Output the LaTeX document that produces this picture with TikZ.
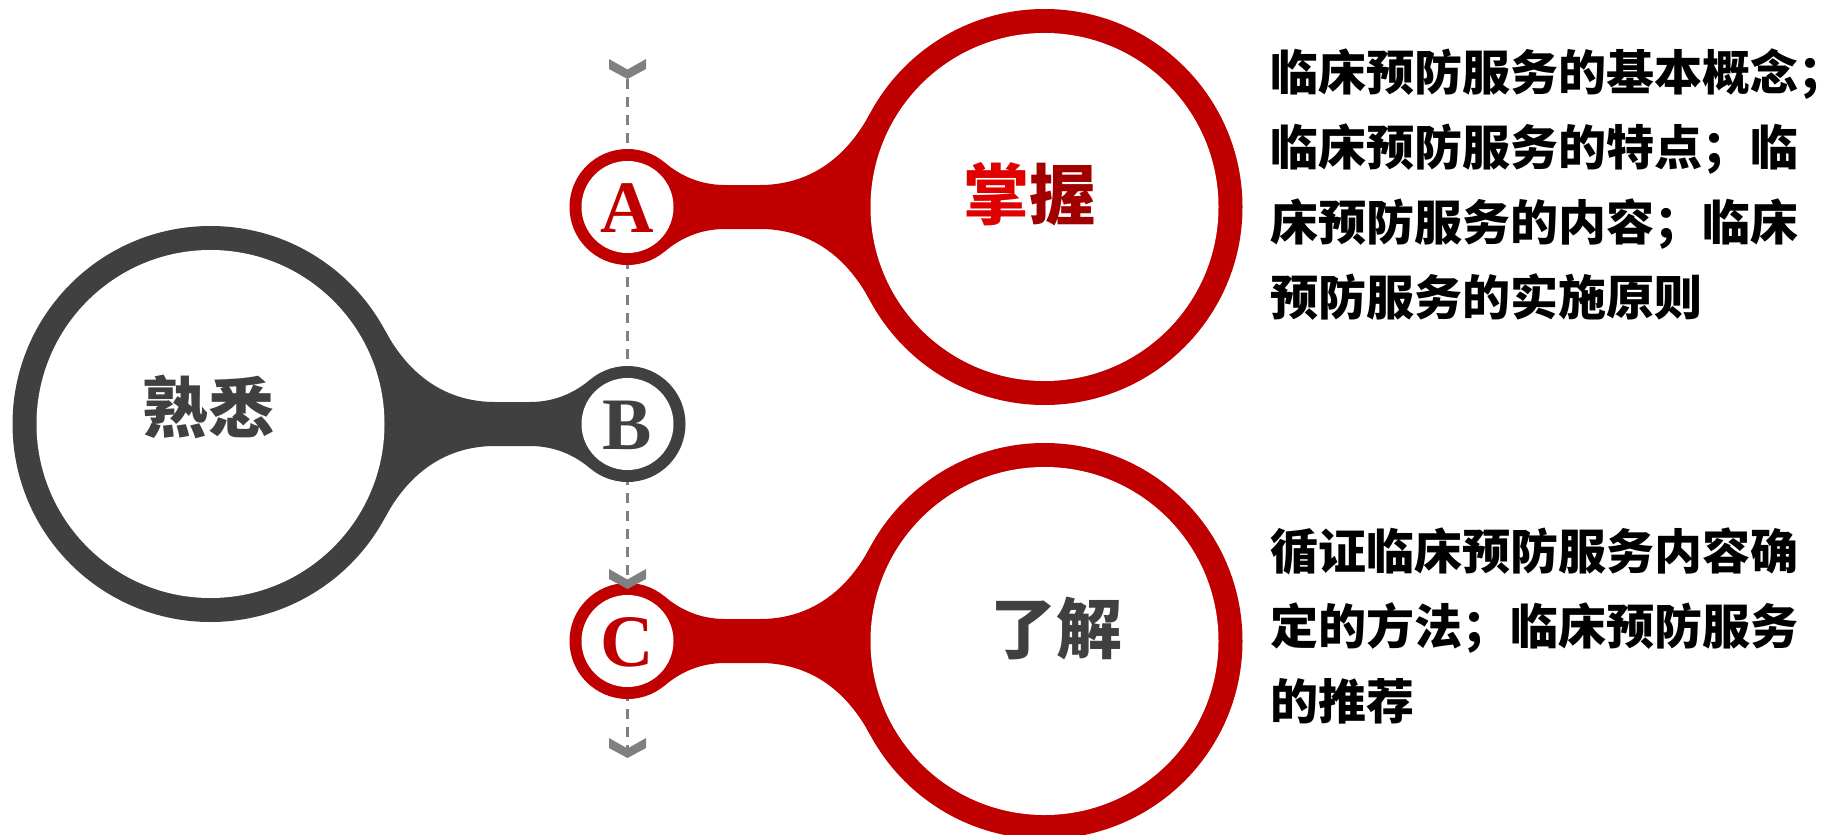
\documentclass[tikz,border=0pt]{standalone}
\usepackage{fontspec}
\newfontfamily\cjk{Noto Sans CJK SC}
\newfontfamily\lettersf{Liberation Serif}
\definecolor{ringred}{HTML}{C00000}
\definecolor{ringgrey}{HTML}{404040}
\definecolor{dashgrey}{HTML}{808080}
\definecolor{redA}{HTML}{E00000}
\definecolor{redB}{HTML}{A00000}
\newcommand\drawbubble[1]{%
  \fill[#1] (37.3,-44.4) .. controls (52.6,-31.5) and (72.5,-22) .. (97.5,-22)
     -- (132.5,-22) .. controls (172.5,-22) and (213.5,-40) .. (242.2,-93)
     -- (417,0) -- (242.2,93) .. controls (213.5,40) and (172.5,22) .. (132.5,22)
     -- (97.5,22) .. controls (72.5,22) and (52.6,31.5) .. (37.3,44.4) -- (0,0) -- cycle;
  \fill[#1] (0,0) circle (58pt);
  \fill[#1] (417,0) circle (198pt);
  \fill[white] (0,0) circle (46pt);
  \fill[white] (417,0) circle (174pt);
}
\begin{document}
\begin{tikzpicture}[x=1pt,y=-1pt,
  letter/.style={font=\lettersf\bfseries\fontsize{74}{74}\selectfont, inner sep=0pt, anchor=base},
  title/.style={font=\cjk\bfseries\fontsize{66}{66}\selectfont, inner sep=0pt},
  desc/.style={font=\cjk\bfseries\fontsize{48}{48}\selectfont, inner sep=0pt, anchor=base west, text=black},
  dashline/.style={draw=dashgrey, line width=2.5pt, dash pattern=on 10pt off 8pt},
  chevron/.pic={\fill[dashgrey] (-18.5,-20) -- (0,-9.5) -- (18.5,-20) -- (18.5,-10) -- (0,0) -- (-18.5,-10) -- cycle;}]
\useasboundingbox (0,0) rectangle (1823,835);
\coordinate (vtop) at (627.5,79);
\coordinate (vmid) at (627.5,589);
\coordinate (vbot) at (627.5,758);
\coordinate (ca) at (627.5,207);
\coordinate (cb) at (627.5,424);
\coordinate (cc) at (627.5,641);
% dashed timeline
\draw[dashline] (vtop) -- (vbot);
% bubbles
\begin{scope}[shift={(ca)}]\drawbubble{ringred}\end{scope}
\begin{scope}[shift={(cb)}, xscale=-1]\drawbubble{ringgrey}\end{scope}
\begin{scope}[shift={(cc)}]\drawbubble{ringred}\end{scope}
% chevrons
\pic at (vtop) {chevron};
\pic at (vmid) {chevron};
\pic at (vbot) {chevron};
% letters
\node[letter, text=ringred] (la) at (627.5,232.7) {A};
\node[letter, text=ringgrey] (lb) at (627.5,449.3) {B};
\node[letter, text=ringred] (lc) at (627.5,666.5) {C};
% titles
\node[title] (ta) at (1029.5,194) {{\color{redA}掌}{\color{redB}握}};
\node[title, text=ringgrey] (tb) at (208.7,407.2) {熟悉};
\node[title, text=ringgrey] (tc) at (1056.5,628.8) {了解};
% descriptions
\node[desc] (d1) at (1270,90) {临床预防服务的基本概念；\hspace{-27pt}};
\node[desc] (d2) at (1270,165) {临床预防服务的特点；临};
\node[desc] (d3) at (1270,240) {床预防服务的内容；临床};
\node[desc] (d4) at (1270,315) {预防服务的实施原则};
\node[desc] (e1) at (1270,569.5) {循证临床预防服务内容确};
\node[desc] (e2) at (1270,644.5) {定的方法；临床预防服务};
\node[desc] (e3) at (1270,719) {的推荐};
\end{tikzpicture}
\end{document}
